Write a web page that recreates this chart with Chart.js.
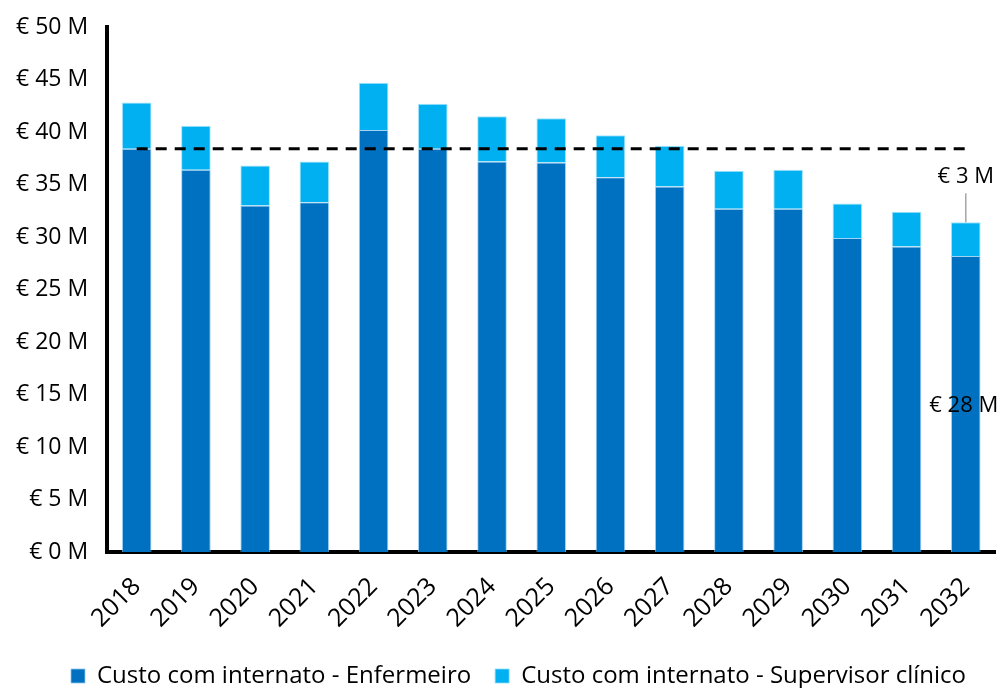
<!DOCTYPE html>
<html>
<head>
<meta charset="utf-8">
<script src="https://cdn.jsdelivr.net/npm/chart.js@4/dist/chart.umd.min.js"></script>
<style>
html,body{margin:0;padding:0;background:#fff;}
#wrap{width:1007px;height:688px;}
</style>
</head>
<body>
<div id="wrap"><canvas id="c" width="1007" height="688"></canvas></div>
<script>
const categories = ['2018','2019','2020','2021','2022','2023','2024','2025','2026','2027','2028','2029','2030','2031','2032'];
const enfermeiro = [38.4, 36.4, 33.0, 33.3, 40.2, 38.4, 37.2, 37.1, 35.7, 34.8, 32.7, 32.7, 29.9, 29.1, 28.2];
const supervisor = [4.4, 4.2, 3.8, 3.9, 4.5, 4.3, 4.3, 4.2, 4.0, 3.9, 3.6, 3.7, 3.3, 3.3, 3.2];
const referencia = [38.4, 38.4, 38.4, 38.4, 38.4, 38.4, 38.4, 38.4, 38.4, 38.4, 38.4, 38.4, 38.4, 38.4, 38.4];
const yTicks = [0, 5, 10, 15, 20, 25, 30, 35, 40, 45, 50];
const seriesNames = ['Custo com internato - Enfermeiro', 'Custo com internato - Supervisor clínico'];

const FONT = "'Open Sans', 'Liberation Sans', Arial, sans-serif";
const LEGEND_PAD = 24;

const lastLabels = {
  id: 'lastLabels',
  afterDatasetsDraw(chart) {
    const ctx = chart.ctx;
    const x = chart.scales.x;
    const y = chart.scales.y;
    const i = categories.length - 1;
    const cx = x.getPixelForValue(i);
    const dark = enfermeiro[i];
    const total = enfermeiro[i] + supervisor[i];
    ctx.save();
    ctx.font = '22px ' + FONT;
    ctx.fillStyle = '#000';
    ctx.textAlign = 'center';
    ctx.textBaseline = 'middle';
    ctx.fillText('€ ' + Math.round(dark) + ' M', cx - 2, y.getPixelForValue(dark / 2) + 2);
    const topPx = y.getPixelForValue(total);
    ctx.strokeStyle = '#a6a6a6';
    ctx.lineWidth = 1.5;
    ctx.beginPath();
    ctx.moveTo(cx, topPx);
    ctx.lineTo(cx, topPx - 29);
    ctx.stroke();
    ctx.fillText('€ ' + Math.round(supervisor[i]) + ' M', cx, topPx - 46);
    ctx.restore();
  }
};

const placeLegend = {
  id: 'placeLegend',
  afterLayout(chart) {
    const lg = chart.legend;
    if (!lg) return;
    const h = lg.height;
    lg.left += 15; lg.right += 15;
    lg.top = 676 - LEGEND_PAD - 12;
    lg.bottom = lg.top + h;
  }
};

new Chart(document.getElementById('c'), {
  data: {
    labels: categories,
    datasets: [
      {
        type: 'line',
        label: 'ref',
        data: referencia,
        borderColor: '#000',
        borderWidth: 3,
        borderDash: [11, 8],
        pointRadius: 0,
        fill: false,
        stack: 'ref',
        order: 0
      },
      {
        type: 'bar',
        label: seriesNames[0],
        data: enfermeiro,
        backgroundColor: '#0070C0',
        borderColor: 'rgba(140,200,240,0.8)',
        borderWidth: 1,
        stack: 's',
        barPercentage: 0.5,
        categoryPercentage: 1.0,
        order: 1
      },
      {
        type: 'bar',
        label: seriesNames[1],
        data: supervisor,
        backgroundColor: '#00B0F0',
        borderColor: 'rgba(140,220,250,0.8)',
        borderWidth: 1,
        stack: 's',
        barPercentage: 0.5,
        categoryPercentage: 1.0,
        order: 2
      }
    ]
  },
  options: {
    responsive: false,
    animation: false,
    layout: { padding: { top: 27, right: -3, left: -3, bottom: 0 } },
    scales: {
      x: {
        stacked: true,
        grid: { display: false, drawTicks: false },
        border: { display: true, color: '#000', width: 4 },
        ticks: {
          color: '#000',
          font: { family: FONT, size: 25 },
          maxRotation: 45,
          minRotation: 45,
          padding: 20
        },
        afterFit(scale) { scale.height = 88; }
      },
      y: {
        stacked: true,
        min: 0,
        max: 50,
        grid: { display: false, drawTicks: false },
        border: { display: true, color: '#000', width: 4 },
        afterBuildTicks(axis) { axis.ticks = yTicks.map(v => ({ value: v })); },
        afterFit(scale) { scale.paddingTop = 0; scale.paddingBottom = 0; },
        ticks: {
          color: '#000',
          font: { family: FONT, size: 23 },
          padding: 19,
          callback: v => '€ ' + v + ' M'
        }
      }
    },
    plugins: {
      legend: {
        position: 'bottom',
        maxHeight: 48,
        labels: {
          filter: item => item.text !== 'ref',
          color: '#000',
          font: { family: FONT, size: 24, lineHeight: 1 },
          boxWidth: 14,
          boxHeight: 14,
          padding: LEGEND_PAD
        }
      },
      tooltip: { enabled: false }
    }
  },
  plugins: [lastLabels, placeLegend]
});
</script>
</body>
</html>
